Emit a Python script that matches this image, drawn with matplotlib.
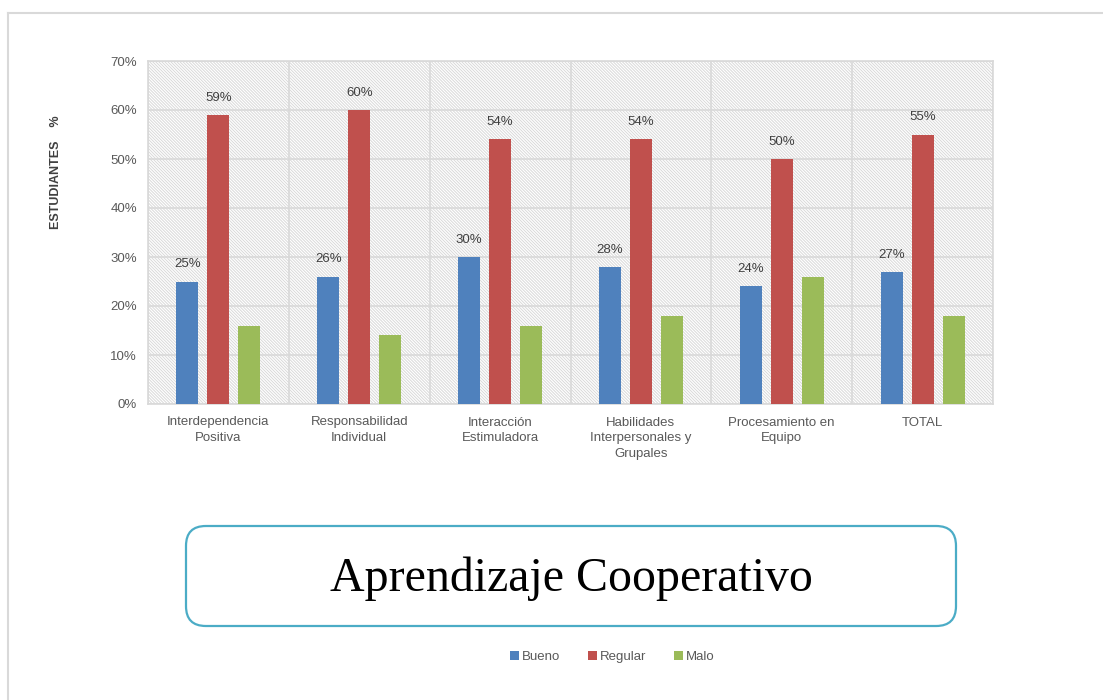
import matplotlib
matplotlib.use("Agg")
import matplotlib.pyplot as plt
import numpy as np
from matplotlib.patches import FancyBboxPatch, Rectangle
from matplotlib.lines import Line2D

categories = ["Interdependencia\nPositiva", "Responsabilidad\nIndividual",
              "Interacción\nEstimuladora", "Habilidades\nInterpersonales y\nGrupales",
              "Procesamiento en\nEquipo", "TOTAL"]
bueno = [25, 26, 30, 28, 24, 27]
regular = [59, 60, 54, 54, 50, 55]
malo = [16, 14, 16, 18, 26, 18]
yticks = [0, 10, 20, 30, 40, 50, 60, 70]

c_blue, c_red, c_green = "#4f81bd", "#c0504d", "#9bbb59"
grid_c = "#d9d9d9"
txt_c = "#595959"

plt.rcParams['font.family'] = ['Liberation Sans', 'DejaVu Sans']
plt.rcParams['hatch.linewidth'] = 0.7

W, H = 1103, 700
fig = plt.figure(figsize=(W/100, H/100), dpi=100)

# outer frame (top and left edges visible)
fig.add_artist(Line2D([8/W, 1.0], [1-12.5/H, 1-12.5/H], color="#d9d9d9", lw=1.5, transform=fig.transFigure))
fig.add_artist(Line2D([8/W, 8/W], [0, 1-12.5/H], color="#d9d9d9", lw=1.5, transform=fig.transFigure))

ax = fig.add_axes([148/W, 1-404/H, (993-148)/W, (404-61)/H])
x = np.arange(len(categories))
ax.set_xlim(-0.5, len(categories)-0.5)
ax.set_ylim(0, 70)

# hatched background
bg = Rectangle((0, 0), 1, 1, transform=ax.transAxes, facecolor="white",
               edgecolor="#d9d9d9", lw=0, hatch="\\" * 11, zorder=0)
ax.add_patch(bg)
ax.set_facecolor("white")

bw = 0.156
off = 0.22
ax.bar(x - off, bueno, bw, color=c_blue, zorder=3, label="Bueno")
ax.bar(x, regular, bw, color=c_red, zorder=3, label="Regular")
ax.bar(x + off, malo, bw, color=c_green, zorder=3, label="Malo")

for xi, v in zip(x - off, bueno):
    ax.annotate(f"{v}%", (xi, v), xytext=(0, 8), textcoords="offset points",
                ha="center", va="bottom", fontsize=9.5, color="#404040", zorder=4)
for xi, v in zip(x, regular):
    ax.annotate(f"{v}%", (xi, v), xytext=(0, 8), textcoords="offset points",
                ha="center", va="bottom", fontsize=9.5, color="#404040", zorder=4)

ax.set_yticks(yticks)
ax.set_yticklabels([f"{t}%" for t in yticks], fontsize=9.5, color=txt_c)
ax.set_xticks(x)
ax.set_xticklabels(categories, fontsize=9.5, color=txt_c, linespacing=1.4)
ax.set_xticks(np.arange(-0.5, len(categories)), minor=True)
ax.tick_params(axis="both", which="both", length=0)
ax.tick_params(axis="x", pad=9)
ax.tick_params(axis="y", pad=8)
ax.grid(axis="y", which="major", color=grid_c, lw=1.2, zorder=1)
ax.grid(axis="x", which="minor", color=grid_c, lw=1.2, zorder=1)
ax.grid(axis="x", which="major", visible=False)
for s in ax.spines.values():
    s.set_color(grid_c)
    s.set_linewidth(1.2)

fig.text(56/W, 1-172/H, "ESTUDIANTES    %", rotation=90, ha="center", va="center",
         fontsize=9, fontweight="bold", color="#404040")

# title box
box = FancyBboxPatch((186/W, 1-626/H), (956-186)/W, (626-526)/H,
                     boxstyle="round,pad=0,rounding_size=0.018",
                     transform=fig.transFigure, facecolor="white",
                     edgecolor="#4bacc6", lw=1.6, mutation_aspect=W/H)
fig.add_artist(box)
fig.text(571/W, 1-579/H, "Aprendizaje Cooperativo", ha="center", va="center",
         fontsize=34.5, family=["Liberation Serif", "DejaVu Serif"], color="black")

handles, labels = ax.get_legend_handles_labels()
fig.legend(handles, labels, loc="center", bbox_to_anchor=(612/W, 1-657/H), ncol=3,
           frameon=False, fontsize=9.5, handlelength=0.7, handleheight=0.7,
           handletextpad=0.2, columnspacing=2.1, labelcolor=txt_c)

fig.savefig("out.png", dpi=100)
